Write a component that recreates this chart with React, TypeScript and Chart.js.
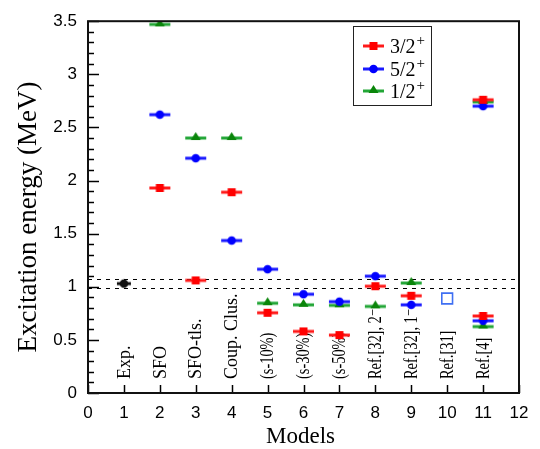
import React, { useEffect, useRef } from "react";
import { Chart, registerables } from "chart.js";

Chart.register(...registerables);

// ---------- data ----------
const modelPositions = [1, 2, 3, 4, 5, 6, 7, 8, 9, 10, 11];
const modelLabels = [
  "Exp.",
  "SFO",
  "SFO-tls.",
  "Coup. Clus.",
  "(s-10%)",
  "(s-30%)",
  "(s-50%)",
  "Ref.[32], 2\u207B",
  "Ref.[32], 1\u207B",
  "Ref.[31]",
  "Ref.[4]",
];
// first four labels use the wider font
const largeLabelCount = 4;

const seriesNames = ["3/2", "5/2", "1/2"];
const seriesParity = ["+", "+", "+"];

const x32 = [2, 3, 4, 5, 6, 7, 8, 9, 11, 11];
const e32 = [1.93, 1.06, 1.89, 0.755, 0.58, 0.545, 1.005, 0.915, 2.76, 0.725];

const x52 = [2, 3, 4, 5, 6, 7, 8, 9, 11, 11];
const e52 = [2.62, 2.21, 1.435, 1.165, 0.93, 0.86, 1.1, 0.83, 2.7, 0.68];

const x12 = [2, 3, 4, 5, 6, 7, 8, 9, 11, 11];
const e12 = [3.47, 2.4, 2.4, 0.845, 0.83, 0.825, 0.815, 1.035, 2.74, 0.625];

const expX = [1];
const expE = [1.03];

const ref31X = [10];
const ref31E = [0.89];

const expBand = [0.99, 1.07];

const xMin = 0;
const xMax = 12;
const yMin = 0;
const yMax = 3.5;

// ---------- helpers ----------
function makeMarker(
  kind: "square" | "circle" | "triangle",
  lineColor: string,
  fillColor: string,
  barW: number
): HTMLCanvasElement {
  const c = document.createElement("canvas");
  const w = barW + 2;
  const h = 16;
  c.width = w;
  c.height = h;
  const ctx = c.getContext("2d")!;
  const cy = h / 2;
  const cx = w / 2;
  ctx.strokeStyle = lineColor;
  ctx.lineWidth = 3;
  ctx.beginPath();
  ctx.moveTo(1, cy);
  ctx.lineTo(w - 1, cy);
  ctx.stroke();
  ctx.fillStyle = fillColor;
  ctx.beginPath();
  if (kind === "square") {
    ctx.rect(cx - 4, cy - 4, 8, 8);
  } else if (kind === "circle") {
    ctx.arc(cx, cy, 4.3, 0, Math.PI * 2);
  } else {
    ctx.moveTo(cx - 5, cy + 2);
    ctx.lineTo(cx + 5, cy + 2);
    ctx.lineTo(cx, cy - 6);
    ctx.closePath();
  }
  ctx.fill();
  return c;
}

function toPts(xs: number[], ys: number[]) {
  return xs.map((x, i) => ({ x, y: ys[i] }));
}

const serif = "'Liberation Serif', 'DejaVu Serif', serif";
const sans = "'Liberation Sans', Arial, sans-serif";

export default function App() {
  const canvasRef = useRef<HTMLCanvasElement | null>(null);

  useEffect(() => {
    if (!canvasRef.current) return;

    const redMk = makeMarker("square", "#ff1a1a", "#ff0000", 21);
    const blueMk = makeMarker("circle", "#1a1aff", "#0000ff", 21);
    const greenMk = makeMarker("triangle", "#22a636", "#0a850a", 21);
    const blackMk = makeMarker("circle", "#111111", "#111111", 14);
    const legendMarks = [redMk, blueMk, greenMk];

    const overlay = {
      id: "overlay",
      beforeDatasetsDraw(chart: any) {
        const { ctx, chartArea: ca, scales } = chart;
        const xs = scales.x;
        const ys = scales.y;
        ctx.save();
        // dashed experimental band
        ctx.strokeStyle = "#000";
        ctx.lineWidth = 1;
        ctx.setLineDash([4, 5]);
        expBand.forEach((v) => {
          const py = Math.round(ys.getPixelForValue(v)) + 0.5;
          ctx.beginPath();
          ctx.moveTo(ca.left, py);
          ctx.lineTo(ca.right, py);
          ctx.stroke();
        });
        ctx.setLineDash([]);

        // rotated model labels
        ctx.fillStyle = "#000";
        ctx.textAlign = "left";
        ctx.textBaseline = "middle";
        modelLabels.forEach((lab, i) => {
          const px = xs.getPixelForValue(modelPositions[i]);
          const large = i < largeLabelCount;
          ctx.save();
          ctx.translate(px + 1, ca.bottom - 14);
          ctx.rotate(-Math.PI / 2);
          ctx.font = `18px ${serif}`;
          if (!large) ctx.scale(0.8, 1);
          ctx.fillText(lab, 0, 0);
          ctx.restore();
        });
        ctx.restore();
      },
      afterDraw(chart: any) {
        const { ctx, chartArea: ca, scales } = chart;
        const xs = scales.x;
        const ys = scales.y;
        ctx.save();
        // ticks
        ctx.strokeStyle = "#000";
        ctx.lineWidth = 1.5;
        for (let k = 0; k <= 35; k++) {
          const v = k / 10;
          const py = Math.round(ys.getPixelForValue(v)) + 0.5;
          const len = k % 5 === 0 ? 11 : 6;
          ctx.beginPath();
          ctx.moveTo(ca.left, py);
          ctx.lineTo(ca.left + len, py);
          ctx.stroke();
        }
        for (let k = xMin; k <= xMax; k++) {
          const px = Math.round(xs.getPixelForValue(k)) + 0.5;
          ctx.beginPath();
          ctx.moveTo(px, ca.bottom);
          ctx.lineTo(px, ca.bottom - 8);
          ctx.stroke();
        }
        // frame
        ctx.lineWidth = 2;
        ctx.strokeStyle = "#111";
        ctx.strokeRect(ca.left, ca.top, ca.right - ca.left, ca.bottom - ca.top);

        // legend
        const lx = 353.5, ly = 26.5, lw = 78, lh = 79;
        ctx.lineWidth = 1;
        ctx.strokeStyle = "#222";
        ctx.fillStyle = "#fff";
        ctx.fillRect(lx, ly, lw, lh);
        ctx.strokeRect(lx, ly, lw, lh);
        seriesNames.forEach((nm, i) => {
          const cy = 46 + i * 22.5;
          const mk = legendMarks[i];
          ctx.drawImage(mk, Math.round(373 - mk.width / 2), Math.round(cy - mk.height / 2));
          ctx.fillStyle = "#000";
          ctx.font = `20px ${serif}`;
          ctx.textAlign = "left";
          ctx.textBaseline = "alphabetic";
          ctx.fillText(nm, 390, cy + 7);
          const w = ctx.measureText(nm).width;
          ctx.font = `15px ${serif}`;
          ctx.fillText(seriesParity[i], 390 + w + 1, cy - 1);
        });

        // axis titles
        ctx.fillStyle = "#000";
        ctx.font = `23px ${serif}`;
        ctx.textAlign = "center";
        ctx.textBaseline = "alphabetic";
        ctx.fillText("Models", (ca.left + ca.right) / 2 - 3, 443);
        ctx.save();
        ctx.translate(36, 217);
        ctx.rotate(-Math.PI / 2);
        ctx.font = `27px ${serif}`;
        ctx.fillText("Excitation energy (MeV)", 0, 0);
        ctx.restore();
        ctx.restore();
      },
    };

    const chart = new Chart(canvasRef.current, {
      type: "scatter",
      data: {
        datasets: [
          {
            label: "Exp.",
            data: toPts(expX, expE),
            pointStyle: blackMk as any,
            pointRadius: 7,
          },
          {
            label: seriesNames[0] + seriesParity[0],
            data: toPts(x32, e32),
            pointStyle: redMk as any,
            pointRadius: 10,
          },
          {
            label: seriesNames[1] + seriesParity[1],
            data: toPts(x52, e52),
            pointStyle: blueMk as any,
            pointRadius: 10,
          },
          {
            label: seriesNames[2] + seriesParity[2],
            data: toPts(x12, e12),
            pointStyle: greenMk as any,
            pointRadius: 10,
          },
          {
            label: "Ref.[31]",
            data: toPts(ref31X, ref31E),
            pointStyle: "rect",
            pointRadius: 7.6,
            borderColor: "#3f6ff2",
            backgroundColor: "#ffffff",
            borderWidth: 1.6,
          },
        ],
      },
      options: {
        responsive: true,
        maintainAspectRatio: false,
        animation: false,
        layout: { padding: { top: 12, right: 21, bottom: 0, left: 0 } },
        plugins: {
          legend: { display: false },
          tooltip: { enabled: false },
        },
        scales: {
          x: {
            type: "linear",
            min: xMin,
            max: xMax,
            grid: { display: false, drawTicks: false },
            border: { display: false },
            ticks: {
              stepSize: 1,
              padding: 10,
              color: "#000",
              font: { family: sans, size: 17 },
              maxRotation: 0,
            },
            afterFit(scale: any) {
              scale.height = 56;
            },
          },
          y: {
            type: "linear",
            min: yMin,
            max: yMax,
            grid: { display: false, drawTicks: false },
            border: { display: false },
            ticks: {
              stepSize: 0.5,
              padding: 11,
              color: "#000",
              font: { family: sans, size: 17 },
              callback: (v: any) => String(Number(v)),
            },
            afterFit(scale: any) {
              scale.width = 88;
            },
          },
        },
      },
      plugins: [overlay],
    });

    return () => chart.destroy();
  }, []);

  return (
    <div style={{ position: "fixed", left: 0, top: 0, width: 540, height: 449, background: "#fff" }}>
      <canvas ref={canvasRef} />
    </div>
  );
}
